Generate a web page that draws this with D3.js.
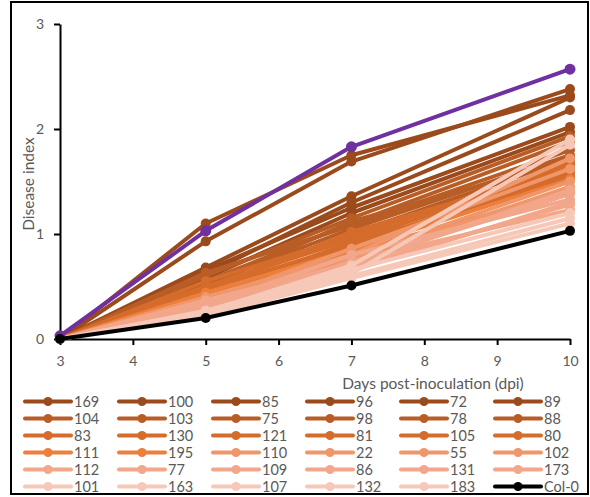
<!DOCTYPE html>
<html>
<head>
<meta charset="utf-8">
<script src="https://cdn.jsdelivr.net/npm/d3@7"></script>
<style>
  html, body { margin: 0; padding: 0; background: #fff; }
  svg { display: block; }
  text { font-family: Lato, "Open Sans", sans-serif; fill: #595959; }
</style>
</head>
<body>
<script>
// Sampling days (dpi)
const days = [3, 5, 7, 10];

// Line names, in legend order
const lines = ["169","100","85","96","72","89",
               "104","103","75","98","78","88",
               "83","130","121","81","105","80",
               "111","195","110","22","55","102",
               "112","77","109","86","131","173",
               "101","163","107","132","183"];

// Disease index per line at 3, 5, 7 and 10 dpi
const lineValues = [
  [0, 1.10, 1.75, 2.32],
  [0, 0.93, 1.69, 2.38],
  [0, 0.68, 1.36, 2.30],
  [0, 0.62, 1.30, 2.18],
  [0, 0.65, 1.25, 2.02],
  [0, 0.58, 1.20, 1.97],
  [0, 0.60, 1.15, 1.93],
  [0, 0.55, 1.10, 1.88],
  [0, 0.63, 1.08, 1.80],
  [0, 0.52, 1.05, 1.75],
  [0, 0.50, 1.12, 1.70],
  [0, 0.48, 1.00, 1.72],
  [0, 0.55, 0.98, 1.66],
  [0, 0.45, 1.02, 1.62],
  [0, 0.50, 0.95, 1.60],
  [0, 0.42, 0.92, 1.68],
  [0, 0.47, 0.90, 1.58],
  [0, 0.40, 0.88, 1.55],
  [0, 0.44, 0.85, 1.52],
  [0, 0.38, 0.83, 1.40],
  [0, 0.36, 0.86, 1.62],
  [0, 0.40, 0.80, 1.72],
  [0, 0.35, 0.78, 1.50],
  [0, 0.33, 0.75, 1.45],
  [0, 0.37, 0.72, 1.38],
  [0, 0.32, 0.80, 1.33],
  [0, 0.30, 0.70, 1.42],
  [0, 0.34, 0.68, 1.28],
  [0, 0.28, 0.74, 1.23],
  [0, 0.30, 0.65, 1.30],
  [0, 0.26, 0.70, 1.90],
  [0, 0.25, 0.62, 1.85],
  [0, 0.27, 0.66, 1.20],
  [0, 0.24, 0.60, 1.15],
  [0, 0.22, 0.58, 1.10]
];

// Highlighted line (no legend entry) and the Col-0 control
const highlightValues = [0.03, 1.03, 1.83, 2.57];
const controlName = "Col-0";
const controlValues = [0, 0.20, 0.51, 1.03];

// Axis ticks
const xTicks = [3, 4, 5, 6, 7, 8, 9, 10];
const yTicks = [0, 1, 2, 3];

const W = 590, H = 497;
const svg = d3.select("body").append("svg").attr("width", W).attr("height", H);

// Outer frame
svg.append("rect").attr("x", 11).attr("y", 2).attr("width", 577).attr("height", 492)
  .attr("fill", "none").attr("stroke", "#000").attr("stroke-width", 2);

const x = d3.scaleLinear().domain([3, 10]).range([60, 570]);
const y = d3.scaleLinear().domain([0, 3]).range([339, 24]);

// Colour ramp from dark brown to pale pink across the legend rows
const rowColors = ["#9b4a1c", "#b95d26", "#d56c2b", "#ec7f3c", "#f2a68a", "#f6c8b8"];
const colorOf = i => {
  const row = Math.floor(i / 6), col = i % 6;
  let c = rowColors[row];
  if (row === 3 && col >= 2) c = "#ef966a";
  return c;
};

// Axes
const xAxis = svg.append("g").attr("transform", `translate(0,${y(0)})`)
  .call(d3.axisBottom(x).tickValues(xTicks).tickSize(6).tickSizeOuter(0).tickPadding(11).tickFormat(d3.format("d")));
const yAxis = svg.append("g").attr("transform", `translate(${x(3)},0)`)
  .call(d3.axisLeft(y).tickValues(yTicks).tickSize(6).tickSizeOuter(0).tickPadding(10).tickFormat(d3.format("d")));
[xAxis, yAxis].forEach(g => {
  g.select(".domain").attr("stroke", "#000").attr("stroke-width", 2);
  g.selectAll(".tick line").attr("stroke", "#000").attr("stroke-width", 2);
  g.selectAll(".tick text").attr("font-size", 14).attr("fill", "#595959")
    .style("font-family", "Lato, 'Open Sans', sans-serif");
});

// Axis titles
svg.append("text").attr("x", 433).attr("y", 388.5).attr("text-anchor", "middle")
  .attr("font-size", 15.5).text("Days post-inoculation (dpi)");
svg.append("text").attr("transform", `translate(34,184) rotate(-90)`)
  .attr("text-anchor", "middle").attr("font-size", 15.5).text("Disease index");

// Series
const lineGen = d3.line().x((d, i) => x(days[i])).y(d => y(d));
const plot = svg.append("g");

function drawSeries(values, color, width, r) {
  const g = plot.append("g");
  g.append("path").datum(values).attr("d", lineGen)
    .attr("fill", "none").attr("stroke", color).attr("stroke-width", width)
    .attr("stroke-linejoin", "round").attr("stroke-linecap", "round");
  g.selectAll("circle").data(values).join("circle")
    .attr("cx", (d, i) => x(days[i])).attr("cy", d => y(d)).attr("r", r)
    .attr("fill", color);
}

lineValues.forEach((v, i) => drawSeries(v, colorOf(i), 4, 5));
drawSeries(highlightValues, "#7030a0", 4, 5.5);
drawSeries(controlValues, "#000", 4, 5);

// Legend: 6 columns, row-major
const legendNames = lines.concat([controlName]);
const legend = svg.append("g");
legendNames.forEach((name, i) => {
  const col = i % 6, row = Math.floor(i / 6);
  const lx = 25 + col * 94, ly = 401.5 + row * 17;
  const color = i < lines.length ? colorOf(i) : "#000";
  const g = legend.append("g").attr("transform", `translate(${lx},${ly})`);
  g.append("line").attr("x1", 0).attr("x2", 46).attr("y1", 0).attr("y2", 0)
    .attr("stroke", color).attr("stroke-width", 4).attr("stroke-linecap", "round");
  g.append("circle").attr("cx", 23).attr("cy", 0).attr("r", 4.5).attr("fill", color);
  g.append("text").attr("x", 49).attr("y", 5.5).attr("font-size", 14.5).text(name);
});
</script>
</body>
</html>
